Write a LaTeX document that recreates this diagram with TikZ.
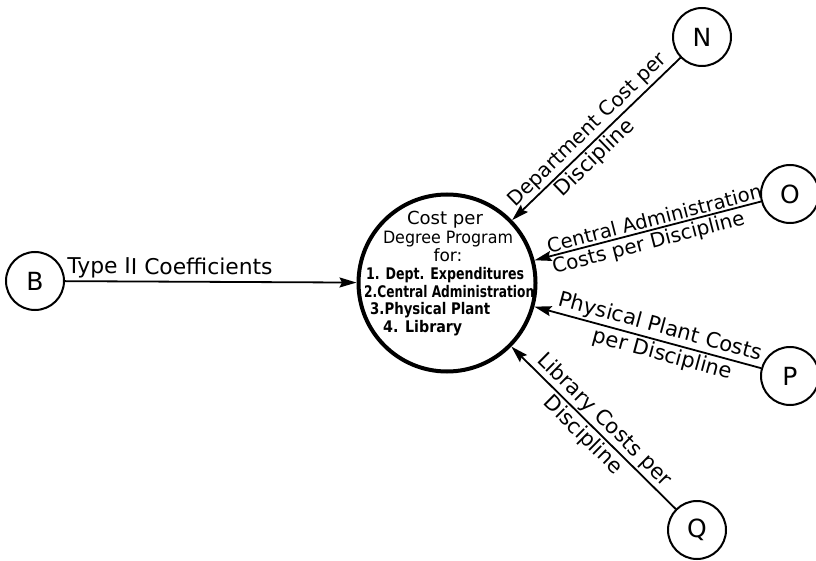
\documentclass[tikz,border=0pt]{standalone}
\usepackage{fontspec}
\setmainfont{DejaVu Sans}
\usepackage{graphicx}
\usetikzlibrary{arrows.meta}
\newcommand\fitto[2]{\resizebox{#1}{\height}{#2}}
\begin{document}
\begin{tikzpicture}[x=1pt,y=-1pt,
  small/.style={circle,draw,line width=2pt,minimum size=58pt,inner sep=0pt,font=\fontsize{25}{25}\selectfont},
  big/.style={circle,draw,line width=4pt,minimum size=177pt,inner sep=0pt},
  flowout/.style={line width=1.8pt,-{Stealth[length=17pt,width=10pt,inset=2.5pt]}},
  flowin/.style={line width=1.8pt,{Stealth[length=17pt,width=10pt,inset=2.5pt]}-},
  lab/.style={font=\fontsize{21}{23}\selectfont,sloped,inner sep=2pt},
  intext/.style={font=\fontsize{17}{19}\selectfont,inner sep=0pt},
  initem/.style={font=\fontsize{16}{18}\selectfont\bfseries,inner sep=0pt,anchor=west}]
\useasboundingbox (0,0) rectangle (816,561);
\fill[white] (0,0) rectangle (816,561);

\node[big] (C) at (447,283) {};
\node[small] (B) at (35,281) {B};
\node[small] (N) at (702,37) {N};
\node[small] (O) at (790,194) {O};
\node[small] (P) at (790,376) {P};
\node[small] (Q) at (697,530) {Q};

\node[intext,font=\fontsize{18}{20}\selectfont] (t1) at (445,220) {\fitto{76pt}{Cost per}};
\node[intext] (t2) at (448,239) {\fitto{130pt}{Degree Program}};
\node[intext] (t3) at (448,255) {for:};
\node[initem] (t4) at (366,275) {\fitto{158pt}{1. Dept. Expenditures}};
\node[initem] (t5) at (364,292) {\fitto{170pt}{2.Central Administration}};
\node[initem] (t6) at (370,310) {\fitto{120pt}{3.Physical Plant}};
\node[initem] (t7) at (383,328) {\fitto{79pt}{4. Library}};

\draw[flowout] (B) -- (C) node[lab,above,pos=0.36,font=\fontsize{21.8}{23}\selectfont] (lB) {Type II Coefficients};
\draw[flowin] (C) -- (N) node[lab,above,pos=0.5,font=\fontsize{20}{22}\selectfont] (lN1) {Department Cost per}
                         node[lab,below,pos=0.44] (lN2) {Discipline};
\draw[flowin] (C) -- (O) node[lab,above,pos=0.54,font=\fontsize{19.6}{22}\selectfont] (lO1) {Central Administration}
                         node[lab,below,pos=0.49,font=\fontsize{20}{22}\selectfont] (lO2) {Costs per Discipline};
\draw[flowin] (C) -- (P) node[lab,above,pos=0.54] (lP1) {Physical Plant Costs}
                         node[lab,below,pos=0.58] (lP2) {per Discipline};
\draw[flowin] (C) -- (Q) node[lab,above,pos=0.51] (lQ1) {Library Costs per}
                         node[lab,below,pos=0.49] (lQ2) {Discipline};
\end{tikzpicture}
\end{document}
